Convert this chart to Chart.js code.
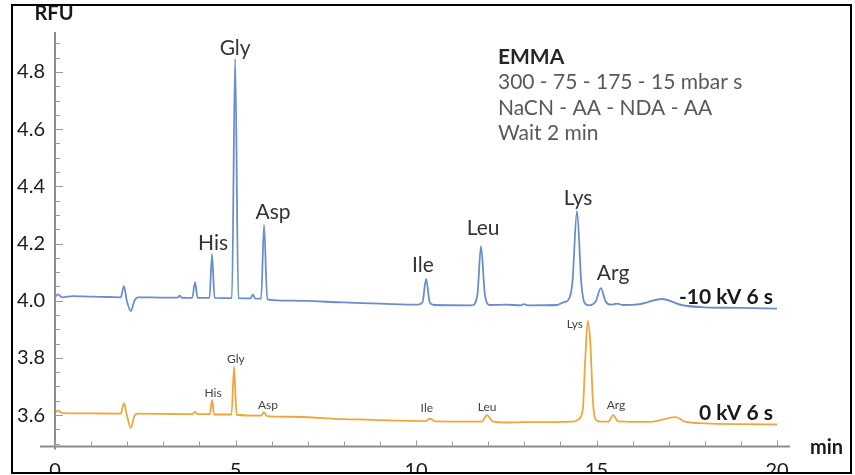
<!DOCTYPE html>
<html>
<head>
<meta charset="utf-8">
<script src="https://cdn.jsdelivr.net/npm/chart.js@4/dist/chart.umd.min.js"></script>
<style>
  html, body { margin: 0; padding: 0; background: #fff; }
  #wrap { position: absolute; left: 0; top: 0; width: 855px; height: 475px; }
</style>
</head>
<body>
<div id="wrap"><canvas id="chart-electroferograma" width="855" height="475"></canvas></div>
<script>
// Tiempos de migracion (min) y senal (RFU)
const tiempoMenos10kV = [0, 0.08, 0.2, 0.5, 1.0, 1.5, 1.82, 1.91, 1.99, 2.1, 2.2, 2.3, 3.0, 3.4, 3.45, 3.5, 3.8, 3.88, 3.95, 4.28, 4.35, 4.42, 4.9, 4.99, 5.08, 5.42, 5.48, 5.55, 5.71, 5.79, 5.88, 6.5, 8.0, 9.0, 10.05, 10.18, 10.28, 10.38, 10.5, 11.55, 11.7, 11.8, 11.91, 12.05, 12.5, 12.9, 13.0, 13.1, 13.9, 14.1, 14.2, 14.33, 14.46, 14.58, 14.68, 14.8, 14.98, 15.12, 15.25, 15.4, 15.57, 15.72, 16.2, 16.81, 17.35, 18.0, 19.0, 20.0];
const rfuMenos10kV = [4.013, 4.022, 4.012, 4.016, 4.014, 4.013, 4.012, 4.051, 4.0, 3.964, 4.0, 4.012, 4.011, 4.011, 4.018, 4.011, 4.01, 4.065, 4.01, 4.01, 4.163, 4.01, 4.009, 4.846, 4.009, 4.008, 4.022, 4.007, 4.007, 4.265, 4.005, 4.0, 3.994, 3.99, 3.986, 3.995, 4.076, 3.995, 3.985, 3.984, 4.02, 4.191, 4.02, 3.985, 3.986, 3.984, 3.988, 3.984, 3.985, 3.995, 4.0, 4.06, 4.314, 4.06, 3.99, 3.984, 3.998, 4.044, 3.998, 3.986, 3.99, 3.985, 3.988, 4.006, 3.985, 3.977, 3.975, 3.972];

const tiempo0kV = [0, 0.08, 0.2, 1.0, 1.82, 1.91, 1.99, 2.1, 2.2, 2.3, 3.0, 3.8, 3.88, 3.95, 4.29, 4.35, 4.41, 4.89, 4.96, 5.03, 5.71, 5.79, 5.87, 6.5, 8.0, 10.25, 10.39, 10.53, 11.82, 11.97, 12.12, 12.5, 13.0, 14.35, 14.5, 14.62, 14.69, 14.76, 14.83, 14.9, 14.97, 15.1, 15.33, 15.46, 15.6, 16.5, 17.2, 17.45, 18.0, 19.0, 20.0];
const rfu0kV = [3.608, 3.616, 3.607, 3.606, 3.605, 3.642, 3.6, 3.555, 3.598, 3.605, 3.604, 3.603, 3.611, 3.603, 3.603, 3.652, 3.602, 3.602, 3.768, 3.601, 3.598, 3.61, 3.596, 3.594, 3.586, 3.579, 3.587, 3.578, 3.577, 3.6, 3.578, 3.574, 3.575, 3.577, 3.585, 3.62, 3.8, 3.929, 3.85, 3.65, 3.585, 3.577, 3.577, 3.6, 3.578, 3.576, 3.593, 3.577, 3.571, 3.568, 3.567];

// Etiquetas de picos (aminoacido, tiempo, RFU donde va el texto)
const picosMenos10kV = ['His', 'Gly', 'Asp', 'Ile', 'Leu', 'Lys', 'Arg'];
const tPicosMenos10kV = [4.38, 4.99, 6.04, 10.19, 11.86, 14.49, 15.46];
const vPicosMenos10kV = [4.202, 4.884, 4.31, 4.125, 4.254, 4.36, 4.097];

const picos0kV = ['His', 'Gly', 'Asp', 'Ile', 'Leu', 'Lys', 'Arg'];
const tPicos0kV = [4.38, 5.01, 5.9, 10.3, 11.97, 14.4, 15.54];
const vPicos0kV = [3.677, 3.796, 3.635, 3.625, 3.628, 3.918, 3.635];

const nombresSeries = ['-10 kV 6 s', '0 kV 6 s'];
const condiciones = ['EMMA', '300 - 75 - 175 - 15 mbar s', 'NaCN - AA - NDA - AA', 'Wait 2 min'];

// Marcas de los ejes: con numero cada 0.2 RFU y cada 5 min
const marcasY = [3.6, 3.8, 4.0, 4.2, 4.4, 4.6, 4.8];
const marcasX = [0, 5, 10, 15, 20];

const FUENTE = 'Lato, "Open Sans", sans-serif';
const AZUL = '#6a8ecb';
const NARANJA = '#f0a63a';

const aPuntos = (ts, vs) => ts.map((t, i) => ({ x: t, y: vs[i] }));
const esMarca = (v, lista) => lista.some(m => Math.abs(m - v) < 1e-6);

// Ejes con marcas hacia dentro, marco y textos
const decoracion = {
    id: 'decoracion',
    afterDatasetsDraw(chart) {
        const { ctx, scales: { x, y } } = chart;
        const x0 = x.getPixelForValue(0);
        const yBase = y.getPixelForValue(3.49);
        ctx.save();

        // ejes
        ctx.strokeStyle = '#8c8c8c';
        ctx.lineWidth = 2;
        ctx.beginPath();
        ctx.moveTo(x0 - 15, yBase); ctx.lineTo(x.getPixelForValue(20) + 13, yBase);
        ctx.moveTo(x0, y.getPixelForValue(4.94)); ctx.lineTo(x0, yBase + 3);
        ctx.stroke();

        ctx.lineWidth = 1;
        ctx.strokeStyle = '#9a9a9a';
        ctx.beginPath();
        y.ticks.forEach(t => {
            const py = Math.round(y.getPixelForValue(t.value)) + 0.5;
            const len = esMarca(t.value, marcasY) ? 8 : 5;
            ctx.moveTo(x0, py); ctx.lineTo(x0 + len, py);
        });
        x.ticks.forEach(t => {
            const px = Math.round(x.getPixelForValue(t.value)) + 0.5;
            const len = esMarca(t.value, marcasX) ? 6 : 5;
            ctx.moveTo(px, yBase); ctx.lineTo(px, yBase - len);
        });
        ctx.stroke();

        // nombres de picos
        ctx.textAlign = 'center';
        ctx.textBaseline = 'middle';
        ctx.fillStyle = '#333';
        ctx.font = '21px ' + FUENTE;
        picosMenos10kV.forEach((p, i) => {
            ctx.fillText(p, x.getPixelForValue(tPicosMenos10kV[i]), y.getPixelForValue(vPicosMenos10kV[i]));
        });
        ctx.fillStyle = '#444';
        ctx.font = '12px ' + FUENTE;
        picos0kV.forEach((p, i) => {
            ctx.fillText(p, x.getPixelForValue(tPicos0kV[i]), y.getPixelForValue(vPicos0kV[i]));
        });

        // nombre de cada traza
        ctx.textAlign = 'right';
        ctx.fillStyle = '#1a1a1a';
        ctx.font = 'bold 21px ' + FUENTE;
        ctx.fillText(nombresSeries[0], x.getPixelForValue(19.89), y.getPixelForValue(4.013));
        ctx.fillText(nombresSeries[1], x.getPixelForValue(19.89), y.getPixelForValue(3.607));

        // bloque de condiciones
        ctx.textAlign = 'left';
        const cx = x.getPixelForValue(12.27);
        const cy = y.getPixelForValue(4.853);
        condiciones.forEach((linea, i) => {
            ctx.fillStyle = i === 0 ? '#262626' : '#595959';
            ctx.font = (i === 0 ? 'bold ' : '') + '21px ' + FUENTE;
            ctx.fillText(linea, cx, cy + i * 25.6);
        });

        // titulos de ejes
        ctx.fillStyle = '#1a1a1a';
        ctx.font = 'bold 20px ' + FUENTE;
        ctx.textAlign = 'center';
        ctx.fillText('RFU', 54, 14);
        ctx.textAlign = 'left';
        ctx.fillText('min', 810, 448);

        // marco
        ctx.fillStyle = '#fff';
        ctx.fillRect(852, 0, 10, 475);
        ctx.fillRect(0, 0, 855, 5);
        ctx.fillRect(0, 473, 855, 5);
        ctx.strokeStyle = '#000';
        ctx.lineWidth = 2;
        ctx.strokeRect(12, 5, 839, 468);
        ctx.restore();
    }
};

const estiloTraza = { borderWidth: 1.8, pointRadius: 0, fill: false, cubicInterpolationMode: 'monotone' };

new Chart(document.getElementById('chart-electroferograma'), {
    type: 'line',
    data: {
        datasets: [
            { label: nombresSeries[0], data: aPuntos(tiempoMenos10kV, rfuMenos10kV), borderColor: AZUL, ...estiloTraza },
            { label: nombresSeries[1], data: aPuntos(tiempo0kV, rfu0kV), borderColor: NARANJA, ...estiloTraza }
        ]
    },
    options: {
        responsive: false,
        animation: false,
        events: [],
        layout: { padding: { left: 0, right: 78, top: 32, bottom: 0 } },
        plugins: { legend: { display: false }, tooltip: { enabled: false } },
        scales: {
            x: {
                type: 'linear', min: 0, max: 20,
                grid: { display: false, drawTicks: false },
                border: { display: false },
                ticks: {
                    stepSize: 1, autoSkip: false, maxRotation: 0, padding: 12,
                    color: '#1a1a1a', font: { family: FUENTE, size: 20 },
                    callback: v => esMarca(v, marcasX) ? String(v) : ''
                },
                afterFit: s => { s.height = 28.5; }
            },
            y: {
                type: 'linear', min: 3.49, max: 4.94,
                grid: { display: false, drawTicks: false },
                border: { display: false },
                // marcas menores cada 0.05 entre 3.5 y 4.9
                afterBuildTicks: s => {
                    const t = [];
                    for (let k = 70; k <= 98; k++) t.push({ value: k / 20 });
                    s.ticks = t;
                },
                ticks: {
                    autoSkip: false, padding: 10,
                    color: '#1a1a1a', font: { family: FUENTE, size: 20 },
                    callback: v => esMarca(v, marcasY) ? v.toFixed(1) : ''
                },
                afterFit: s => { s.width = 55; }
            }
        }
    },
    plugins: [decoracion]
});
</script>
</body>
</html>
